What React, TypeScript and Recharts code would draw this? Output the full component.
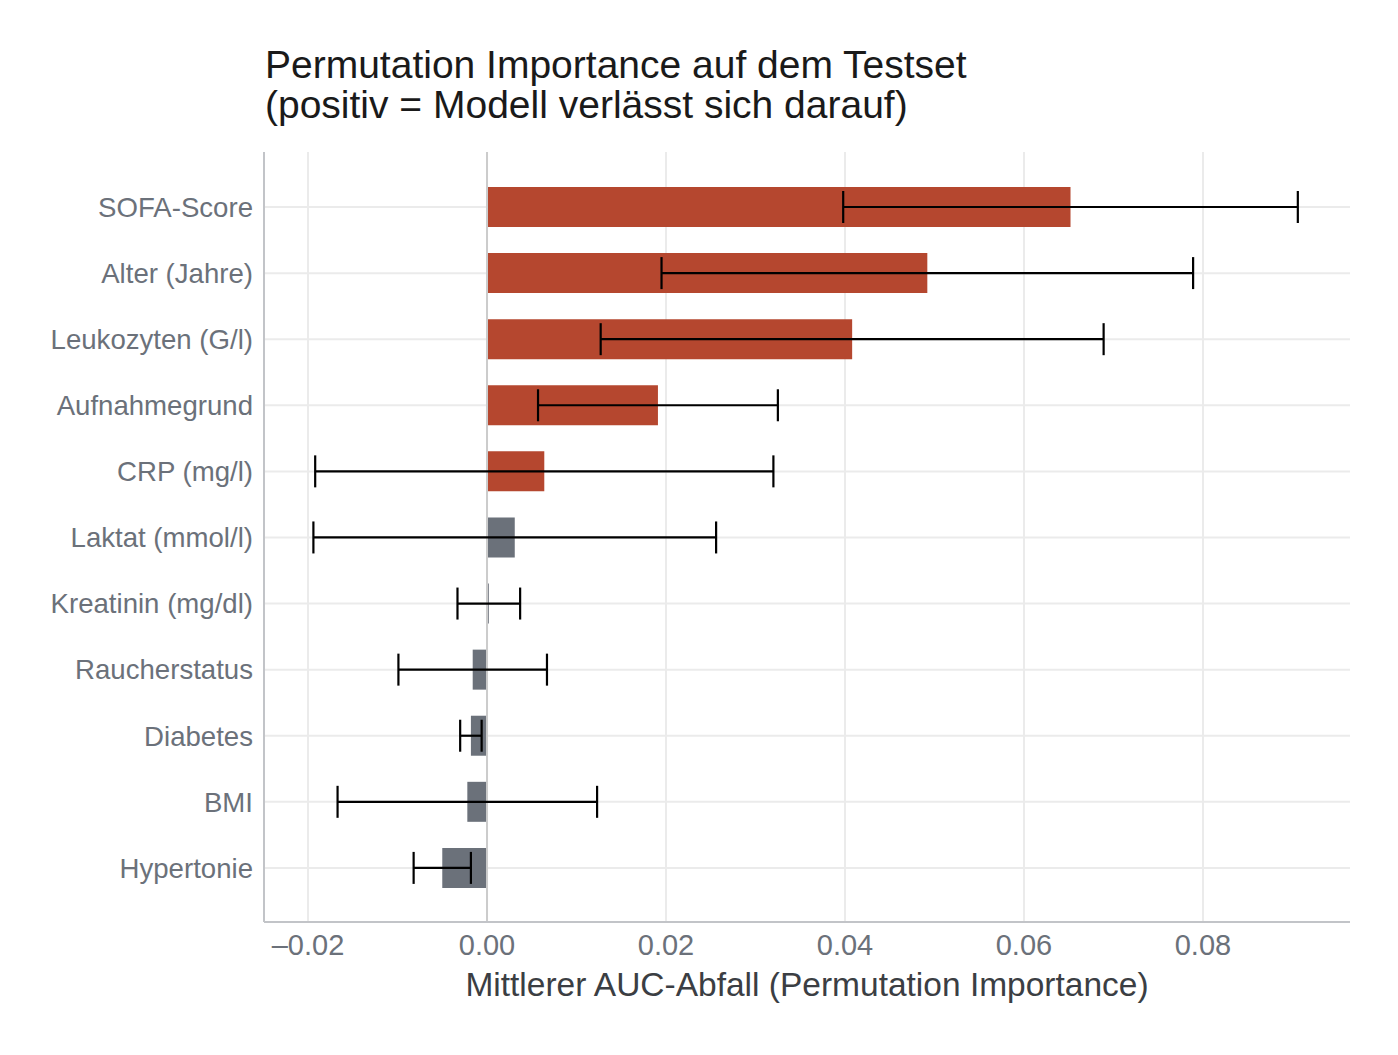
import {
  BarChart,
  Bar,
  Cell,
  ErrorBar,
  XAxis,
  YAxis,
  CartesianGrid,
  ReferenceLine,
} from 'recharts';

// mean AUC drop per feature and its standard deviation across permutations
const features = [
  'SOFA-Score',
  'Alter (Jahre)',
  'Leukozyten (G/l)',
  'Aufnahmegrund',
  'CRP (mg/l)',
  'Laktat (mmol/l)',
  'Kreatinin (mg/dl)',
  'Raucherstatus',
  'Diabetes',
  'BMI',
  'Hypertonie',
];
const meanDrop = [0.0652, 0.0492, 0.0408, 0.0191, 0.0064, 0.0031, 0.0002, -0.0016, -0.0018, -0.0022, -0.005];
const sdDrop = [0.0254, 0.0297, 0.0281, 0.0134, 0.0256, 0.0225, 0.0035, 0.0083, 0.0012, 0.0145, 0.0032];
const xTicks = [-0.02, 0, 0.02, 0.04, 0.06, 0.08];

const data = features.map((name, i) => ({ name, value: meanDrop[i], sd: sdDrop[i] }));

const X_DOMAIN: [number, number] = [-0.02492, 0.09643];
const Y_PAD = { top: 22, bottom: 21 };

const FONT = '"Liberation Sans", Arial, Helvetica, sans-serif';
const TICK = '#6b717a';
const GRID = '#ebebeb';
const AXIS = '#c2c4c8';

// grid lines only at the x ticks and at the category centres
const verticalLines = ({ offset }: any) =>
  xTicks.map((t) => offset.left + ((t - X_DOMAIN[0]) / (X_DOMAIN[1] - X_DOMAIN[0])) * offset.width);
const horizontalLines = ({ offset }: any) => {
  const band = (offset.height - Y_PAD.top - Y_PAD.bottom) / features.length;
  return features.map((_, i) => offset.top + Y_PAD.top + band * (i + 0.5));
};

export default function App() {
  return (
    <div style={{ position: 'absolute', left: 0, top: 0, width: 1398, height: 1055, background: '#fff', fontFamily: FONT }}>
      <div
        style={{
          position: 'absolute',
          left: 265,
          top: 45,
          fontSize: 39,
          lineHeight: '40px',
          color: '#1a1a1a',
        }}
      >
        Permutation Importance auf dem Testset
        <br />
        (positiv = Modell verlässt sich darauf)
      </div>
      <BarChart
        width={1398}
        height={1055}
        data={data}
        layout="vertical"
        margin={{ top: 152, right: 48, bottom: 0, left: 0 }}
        barSize={40}
      >
        <CartesianGrid
          stroke={GRID}
          strokeWidth={2}
          verticalCoordinatesGenerator={verticalLines}
          horizontalCoordinatesGenerator={horizontalLines}
        />
        <XAxis
          type="number"
          domain={X_DOMAIN}
          ticks={xTicks}
          allowDataOverflow
          tickFormatter={(v: number) => (v < 0 ? '\u2013' + Math.abs(v).toFixed(2) : v.toFixed(2))}
          tick={{ fontSize: 29, fill: TICK, fontFamily: FONT }}
          tickLine={false}
          tickSize={0}
          tickMargin={12}
          axisLine={{ stroke: AXIS, strokeWidth: 2 }}
          height={133}
        />
        <YAxis
          type="category"
          dataKey="name"
          width={264}
          padding={Y_PAD}
          tick={{ fontSize: 27.6, fill: TICK, fontFamily: FONT }}
          tickLine={false}
          tickSize={0}
          tickMargin={11}
          axisLine={{ stroke: AXIS, strokeWidth: 2 }}
        />
        <ReferenceLine x={0} stroke="#cccccc" strokeWidth={2} />
        <Bar dataKey="value" isAnimationActive={false}>
          {data.map((d) => (
            <Cell key={d.name} fill={d.value > 0.005 ? '#b5472f' : '#6b717a'} />
          ))}
          <ErrorBar dataKey="sd" direction="x" width={16} stroke="#000" strokeWidth={2.2} isAnimationActive={false} />
        </Bar>
      </BarChart>
      <div
        style={{
          position: 'absolute',
          left: 264,
          width: 1086,
          top: 966,
          textAlign: 'center',
          fontSize: 33.5,
          color: '#3b3e43',
        }}
      >
        Mittlerer AUC-Abfall (Permutation Importance)
      </div>
    </div>
  );
}
